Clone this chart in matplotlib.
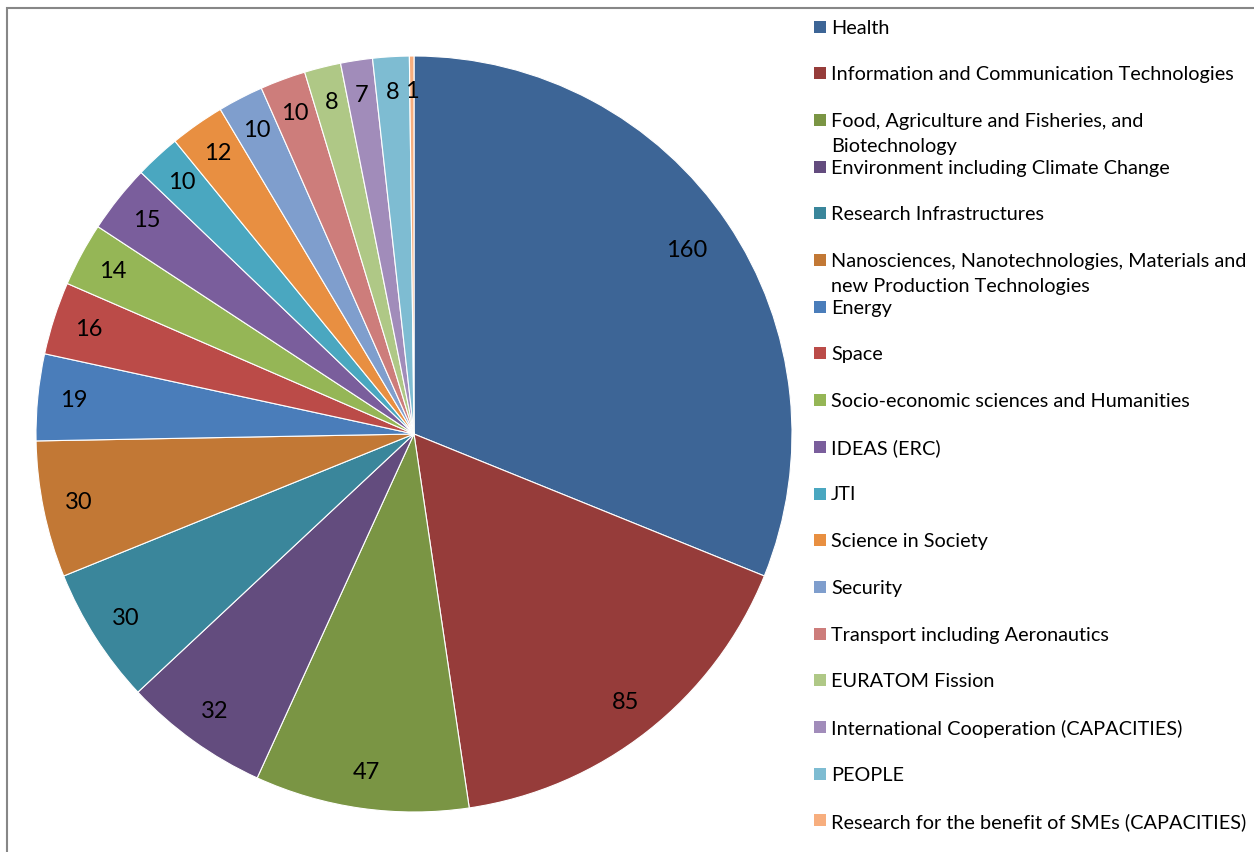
import matplotlib
matplotlib.use("Agg")
import matplotlib.pyplot as plt
from matplotlib.patches import Rectangle
import numpy as np

categories = [
    "Health",
    "Information and Communication Technologies",
    "Food, Agriculture and Fisheries, and\nBiotechnology",
    "Environment including Climate Change",
    "Research Infrastructures",
    "Nanosciences, Nanotechnologies, Materials and\nnew Production Technologies",
    "Energy",
    "Space",
    "Socio-economic sciences and Humanities",
    "IDEAS (ERC)",
    "JTI",
    "Science in Society",
    "Security",
    "Transport including Aeronautics",
    "EURATOM Fission",
    "International Cooperation (CAPACITIES)",
    "PEOPLE",
    "Research for the benefit of SMEs (CAPACITIES)",
]
values = [160, 85, 47, 32, 30, 30, 19, 16, 14, 15, 10, 12, 10, 10, 8, 7, 8, 1]
colors = [
    "#3D6596", "#963C3A", "#7A9544", "#634C7E", "#3A869B", "#C27835",
    "#4A7DBA", "#BB4B48", "#95B656", "#7A5E9C", "#4AA7C0", "#E88F41",
    "#7F9ECD", "#CD7D7B", "#AFC886", "#A18CBA", "#7EBCD2", "#F7AE7E",
]

FONT = ["Lato", "DejaVu Sans"]
W, H = 1254, 852
fig = plt.figure(figsize=(W / 100, H / 100), dpi=100)
fig.patch.set_facecolor("white")

# chart frame (top and left edges visible)
fig.add_artist(Rectangle((7 / W, -0.05), 1.1, (H - 8) / H + 0.05,
                         transform=fig.transFigure, fill=False,
                         edgecolor="#878787", linewidth=1.5))

cx, cy, r = 414, 434, 378
ax = fig.add_axes([(cx - r) / W, (H - cy - r) / H, 2 * r / W, 2 * r / H])
wedges, texts = ax.pie(
    values, colors=colors, startangle=90, counterclock=False,
    labels=[str(v) for v in values], labeldistance=0.905,
    wedgeprops=dict(edgecolor="white", linewidth=0.8),
    textprops=dict(fontsize=17, family=FONT, color="black"),
)
for t in texts:
    t.set_horizontalalignment("center")
    t.set_verticalalignment("center")

# the largest slice keeps its label a little further inside
w0 = wedges[0]
mid = np.deg2rad((w0.theta1 + w0.theta2) / 2)
texts[0].set_position((0.87 * np.cos(mid), 0.87 * np.sin(mid)))

ax.set_xlim(-1, 1)
ax.set_ylim(-1, 1)
ax.set_aspect("equal")
ax.axis("off")

# legend drawn as fixed slots
y0, step, lh = 26.5, 46.7, 25
for i, (name, col) in enumerate(zip(categories, colors)):
    y = y0 + i * step
    fig.add_artist(Rectangle((814 / W, (H - y - 6) / H), 12 / W, 12 / H,
                             transform=fig.transFigure, facecolor=col,
                             edgecolor="none"))
    for j, line in enumerate(name.split("\n")):
        fig.text(831 / W, (H - y - 1.5 - j * lh) / H, line, fontsize=14.3,
                 family=FONT, va="center", ha="left", color="black")

fig.savefig("out.png", dpi=100, facecolor="white")
